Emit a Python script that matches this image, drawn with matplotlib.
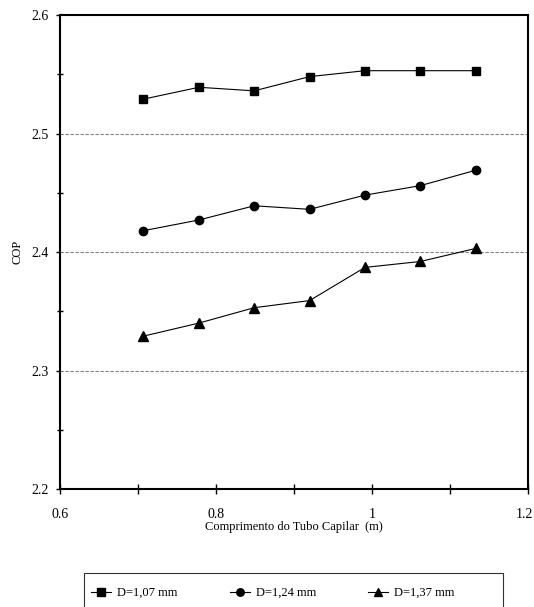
import numpy as np
import matplotlib
matplotlib.use("Agg")
import matplotlib.pyplot as plt
import matplotlib.transforms as mtransforms
from matplotlib.patches import Rectangle
from matplotlib.ticker import MultipleLocator

plt.rcParams['font.family'] = ['Liberation Serif', 'DejaVu Serif']

# comprimento do tubo capilar (m)
comprimento = [0.707, 0.778, 0.849, 0.920, 0.991, 1.062, 1.133]

cop_107 = [2.529, 2.539, 2.536, 2.548, 2.553, 2.553, 2.553]
cop_124 = [2.418, 2.427, 2.439, 2.436, 2.448, 2.456, 2.469]
cop_137 = [2.329, 2.340, 2.353, 2.359, 2.387, 2.392, 2.403]

labels = ["D=1,07 mm", "D=1,24 mm", "D=1,37 mm"]

fig = plt.figure(figsize=(5.34, 6.07), dpi=100)
ax = fig.add_axes([60/534, 1 - 489/607, 468/534, 474/607])

ax.plot(comprimento, cop_107, '-s', color='black', lw=0.8, ms=6, label=labels[0])
ax.plot(comprimento, cop_124, '-o', color='black', lw=0.8, ms=6, label=labels[1])
ax.plot(comprimento, cop_137, '-^', color='black', lw=0.8, ms=6.5, label=labels[2])

for g in [2.3, 2.4, 2.5]:
    ax.axhline(g, color='gray', lw=0.8, ls=(0, (3, 1.5)), zorder=0)

ax.set_xlim(0.6, 1.2)
ax.set_ylim(2.2, 2.6)
ax.xaxis.set_minor_locator(MultipleLocator(0.1))
ax.yaxis.set_minor_locator(MultipleLocator(0.05))
ax.set_xticks([0.6, 0.8, 1.0, 1.2])
ax.set_xticklabels(["0.6", "0.8", "1", "1.2"])
ax.set_yticks([2.2, 2.3, 2.4, 2.5, 2.6])
ax.set_yticklabels(["2.2", "2.3", "2.4", "2.5", "2.6"])

ax.tick_params(axis='x', which='both', direction='inout', length=7, width=1, labelsize=10, pad=10)
ax.tick_params(axis='y', which='major', direction='out', length=3, width=1, labelsize=10, pad=5)
ax.tick_params(axis='y', which='minor', direction='inout', length=4, width=1)

# o rotulo 1.2 fica colado na borda direita
last = ax.get_xticklabels()[-1]
last.set_transform(last.get_transform() + mtransforms.ScaledTranslation(-4/100, 0, fig.dpi_scale_trans))

for s in ax.spines.values():
    s.set_linewidth(1.5)

ax.set_xlabel("Comprimento do Tubo Capilar  (m)", fontsize=9, labelpad=0)
ax.set_ylabel("COP", fontsize=9, labelpad=6)

# caixa da legenda
fig.patches.append(Rectangle((84/534, -0.05), (503-84)/534, 0.05 + 1 - 573/607,
                             transform=fig.transFigure, fill=False, ec='#333333', lw=0.8))
fig.legend(loc='center left', bbox_to_anchor=(91/534, 1 - 593/607), ncol=3, frameon=False,
           fontsize=9, handlelength=1.6, handletextpad=0.5, columnspacing=4.15,
           borderaxespad=0, borderpad=0, markerscale=0.9)

fig.savefig("out.png", dpi=100)
